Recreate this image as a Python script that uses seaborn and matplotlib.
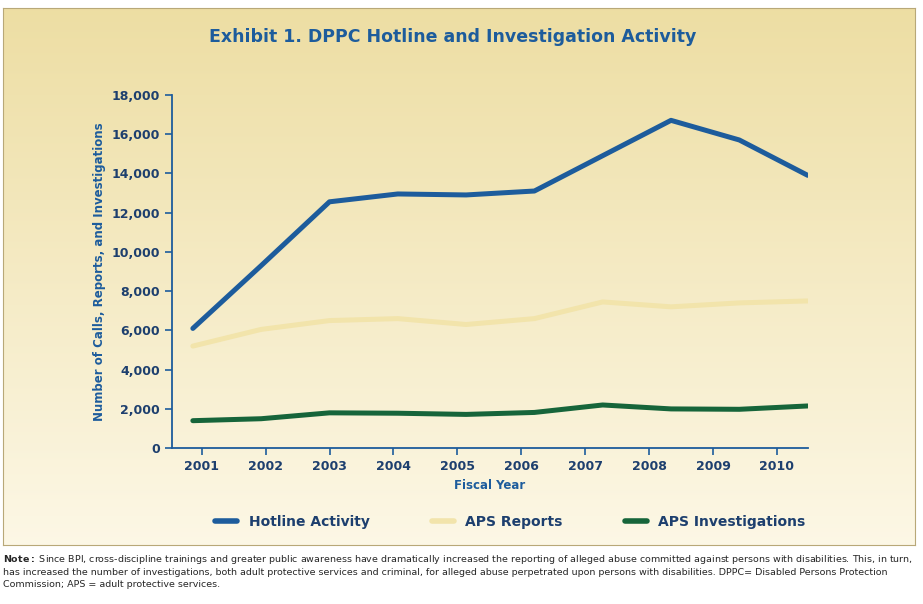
import matplotlib.pyplot as plt
import numpy as np
import pandas as pd
import seaborn as sns
from matplotlib.lines import Line2D

years = ["2001", "2002", "2003", "2004", "2005", "2006", "2007", "2008", "2009", "2010"]
hotline = [6100, 9300, 12550, 12950, 12900, 13100, 14900, 16700, 15700, 13900]
aps_reports = [5200, 6050, 6500, 6600, 6300, 6600, 7450, 7200, 7400, 7500]
aps_invest = [1400, 1500, 1800, 1780, 1720, 1820, 2200, 2000, 1980, 2150]

blue = "#1d5c9c"
beige = "#f2e4ab"
green = "#16653a"

df = pd.DataFrame({
    "idx": list(range(10)) * 3,
    "value": hotline + aps_reports + aps_invest,
    "series": ["Hotline Activity"] * 10 + ["APS Reports"] * 10 + ["APS Investigations"] * 10,
})

sns.set_style("white")
plt.rcParams["font.family"] = ["DejaVu Sans"]
fig = plt.figure(figsize=(9.23, 6.04), dpi=100)

# gradient panel background
bg = fig.add_axes([0.003, 0.097, 0.988, 0.89])
grad = np.linspace(0, 1, 256).reshape(-1, 1)
top = np.array([0.93, 0.87, 0.64])
bot = np.array([0.99, 0.97, 0.90])
img = top + (bot - top) * grad[..., None]
bg.imshow(img, aspect="auto", extent=[0, 1, 0, 1])
bg.set_xticks([]); bg.set_yticks([])
for s in bg.spines.values():
    s.set_color("#b8a878")

ax = fig.add_axes([0.186, 0.258, 0.689, 0.585])
ax.patch.set_alpha(0)
sns.lineplot(data=df, x="idx", y="value", hue="series",
             palette={"Hotline Activity": blue, "APS Reports": beige, "APS Investigations": green},
             linewidth=3.6, ax=ax, legend=False)
ax.set_xlim(-0.31, 9)
ax.set_ylim(0, 18000)
ax.set_xticks(np.linspace(0.13, 8.55, 10))
ax.set_xticklabels(years)
ax.set_yticks(range(0, 18001, 2000))
ax.set_yticklabels([f"{v:,}" for v in range(0, 18001, 2000)])
ax.tick_params(colors=blue, direction="out", length=5, width=1.2, labelsize=9, left=True, bottom=True)
for lbl in ax.get_xticklabels() + ax.get_yticklabels():
    lbl.set_fontweight("bold")
    lbl.set_color("#1d3f6e")
for s in ["top", "right"]:
    ax.spines[s].set_visible(False)
for s in ["left", "bottom"]:
    ax.spines[s].set_color(blue)
    ax.spines[s].set_linewidth(1.3)
ax.set_xlabel("Fiscal Year", color=blue, fontweight="bold", fontsize=8.5)
ax.set_ylabel("Number of Calls, Reports, and Investigations", color=blue, fontweight="bold", fontsize=8.5)

fig.text(0.490, 0.938, "Exhibit 1. DPPC Hotline and Investigation Activity", ha="center", va="center",
         color=blue, fontweight="bold", fontsize=12.5)

handles = [Line2D([], [], color=c, lw=4) for c in (blue, beige, green)]
leg = fig.legend(handles, ["Hotline Activity", "APS Reports", "APS Investigations"], loc="center",
                 bbox_to_anchor=(0.553, 0.136), ncol=3, frameon=False, fontsize=10,
                 columnspacing=4.5, handlelength=1.6, labelcolor="#1d3f6e")
for t in leg.get_texts():
    t.set_fontweight("bold")

note = ("$\\bf{Note:}$ Since BPI, cross-discipline trainings and greater public awareness have dramatically increased the reporting of alleged abuse committed against persons with disabilities. This, in turn,\n"
        "has increased the number of investigations, both adult protective services and criminal, for alleged abuse perpetrated upon persons with disabilities. DPPC= Disabled Persons Protection\n"
        "Commission; APS = adult protective services.")
fig.text(0.003, 0.085, note, ha="left", va="top", fontsize=6.8, linespacing=1.35)

fig.savefig("out.png", dpi=100)
